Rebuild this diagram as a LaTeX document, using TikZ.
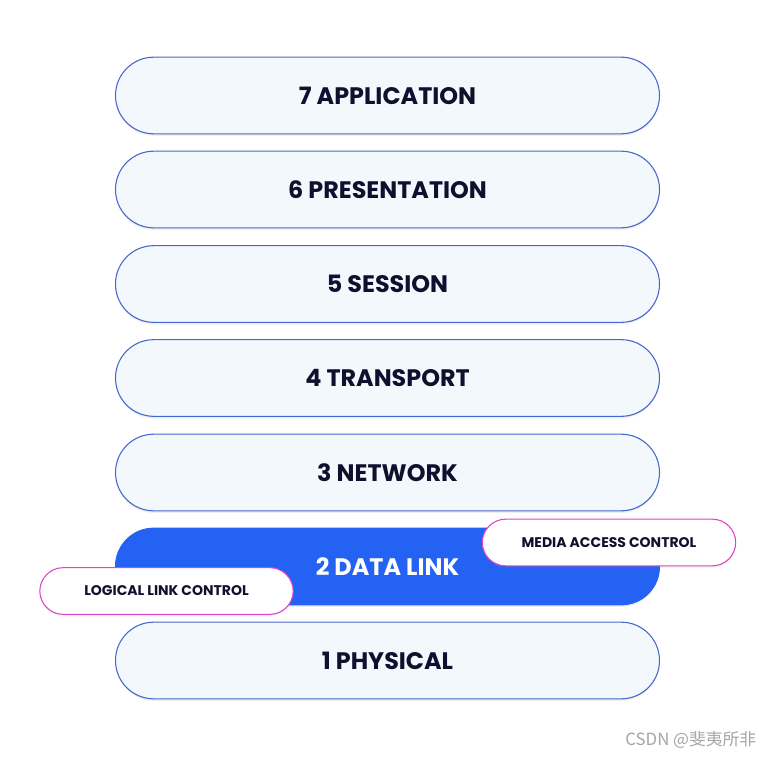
\documentclass[tikz,border=0pt]{standalone}
\usepackage{fontspec}
\setmainfont{Poppins}
\newfontfamily\cjk{Noto Sans CJK SC}
\usetikzlibrary{shadows}

\definecolor{layerfill}{HTML}{F3F8FD}
\definecolor{layerline}{HTML}{4468CC}
\definecolor{linkblue}{HTML}{2462F4}
\definecolor{inkdark}{HTML}{10102E}
\definecolor{subline}{HTML}{DE44C4}

\tikzset{
    layer/.style={draw=layerline, fill=layerfill, line width=0.8pt,
        minimum width=408pt, minimum height=57.5pt, rounded corners=28.7pt,
        font=\fontsize{17.9}{19}\bfseries, text=inkdark,
        drop shadow={opacity=0.12, shadow xshift=0pt, shadow yshift=-1.5pt}},
    sublayer/.style={draw=subline, fill=white, line width=0.8pt,
        minimum width=190pt, minimum height=35pt, rounded corners=17.5pt,
        font=\fontsize{10.5}{12}\bfseries, text=inkdark,
        drop shadow={opacity=0.10, shadow xshift=0pt, shadow yshift=-1.5pt}}
}

\begin{document}
\begin{tikzpicture}[x=0.75pt, y=-0.75pt]
    \useasboundingbox[fill=white] (0,0) rectangle (776,757);

    % --- Layers 7 to 1 ---
    \foreach \n/\y/\name in {7/95.5/APPLICATION, 6/189.5/PRESENTATION, 5/284/SESSION,
                             4/378/TRANSPORT, 3/472.5/NETWORK, 1/660.5/PHYSICAL} {
        \node[layer] (L\n) at (387.5, \y) {\n\ \name};
    }

    % Data link layer (highlighted)
    \node[layer, draw=linkblue, fill=linkblue, text=white] (L2) at (387.5, 566.5) {2 DATA LINK};

    % Sublayers
    \node[sublayer] (mac) at (609, 542.5) {MEDIA ACCESS CONTROL};
    \node[sublayer] (llc) at (166.5, 591) {LOGICAL LINK CONTROL};

    % Watermark
    \node[text=gray!70, font=\cjk\fontsize{12.6}{14}\selectfont, anchor=east] (mark) at (761, 740) {CSDN @斐夷所非};

\end{tikzpicture}
\end{document}
